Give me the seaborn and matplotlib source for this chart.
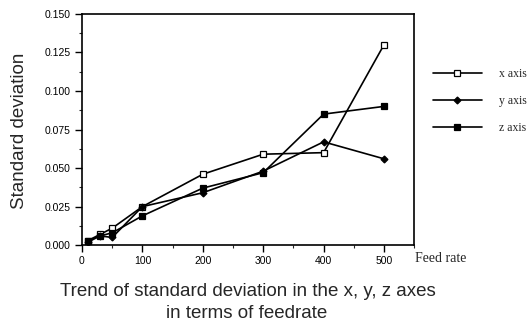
import numpy as np
import pandas as pd
import matplotlib
matplotlib.use('Agg')
import matplotlib.pyplot as plt
from matplotlib.ticker import MultipleLocator, FormatStrFormatter
import seaborn as sns

# ── data ───────────────────────────────────────────────────
feed_rate = [10, 30, 50, 100, 200, 300, 400, 500]
x_axis_sd = [0.003, 0.007, 0.011, 0.025, 0.046, 0.059, 0.060, 0.130]
y_axis_sd = [0.002, 0.006, 0.005, 0.025, 0.034, 0.048, 0.067, 0.056]
z_axis_sd = [0.003, 0.006, 0.008, 0.019, 0.037, 0.047, 0.085, 0.090]
series_names = ['x axis', 'y axis', 'z axis']

df = pd.DataFrame({
    'feed': feed_rate * 3,
    'sd': x_axis_sd + y_axis_sd + z_axis_sd,
    'axis': [n for n in series_names for _ in feed_rate],
})

sns.set_style('ticks')
plt.rcParams['font.family'] = ['Liberation Sans', 'DejaVu Sans']

fig = plt.figure(figsize=(5.29, 3.23), dpi=100)
# axes box: x 82..414 px, y 14..245 px
ax = fig.add_axes([0.155, 0.241, 0.628, 0.716])

styles = {
    'x axis': dict(marker='s', markerfacecolor='white', markersize=4.5),
    'y axis': dict(marker='D', markerfacecolor='black', markersize=3.5),
    'z axis': dict(marker='s', markerfacecolor='black', markersize=4.5),
}
for name in series_names:
    sub = df[df['axis'] == name]
    sns.lineplot(data=sub, x='feed', y='sd', ax=ax, color='black', linewidth=1.2,
                 markeredgecolor='black', markeredgewidth=0.9, label=name,
                 legend=False, **styles[name])

ax.set_xlim(0, 550)
ax.set_ylim(0, 0.150)
ax.set_xticks([0, 100, 200, 300, 400, 500])
ax.xaxis.set_minor_locator(MultipleLocator(50))
ax.yaxis.set_major_locator(MultipleLocator(0.025))
ax.yaxis.set_minor_locator(MultipleLocator(0.0125))
ax.yaxis.set_major_formatter(FormatStrFormatter('%.3f'))
ax.tick_params(axis='both', which='major', labelsize=7.5, length=5, width=1,
               pad=3, direction='out', colors='black')
ax.tick_params(axis='both', which='minor', length=2.5, width=0.8, direction='out')
for sp in ax.spines.values():
    sp.set_linewidth(1.2)
    sp.set_color('black')
ax.set_xlabel('')
ax.set_ylabel('')

fig.text(20 / 529, 1 - 131 / 323, 'Standard deviation', fontsize=13.5,
         rotation=90, ha='center', va='center')

handles, labels = ax.get_legend_handles_labels()
fig.legend(handles, labels, loc='center left', bbox_to_anchor=(0.809, 0.687),
           borderaxespad=0, frameon=False, handlelength=4.2, labelspacing=1.28,
           handletextpad=1.4, prop={'family': 'Liberation Serif', 'size': 8.5})

fig.text(415 / 529, 1 - 258 / 323, 'Feed rate', family='Liberation Serif',
         fontsize=10, va='center')
fig.text(0.469, 1 - 296 / 323, 'Trend of standard deviation in the x, y, z axes',
         fontsize=13.5, ha='center', va='baseline')
fig.text(0.467, 1 - 318 / 323, 'in terms of feedrate',
         fontsize=13.5, ha='center', va='baseline')

fig.savefig('out.png', dpi=100)
